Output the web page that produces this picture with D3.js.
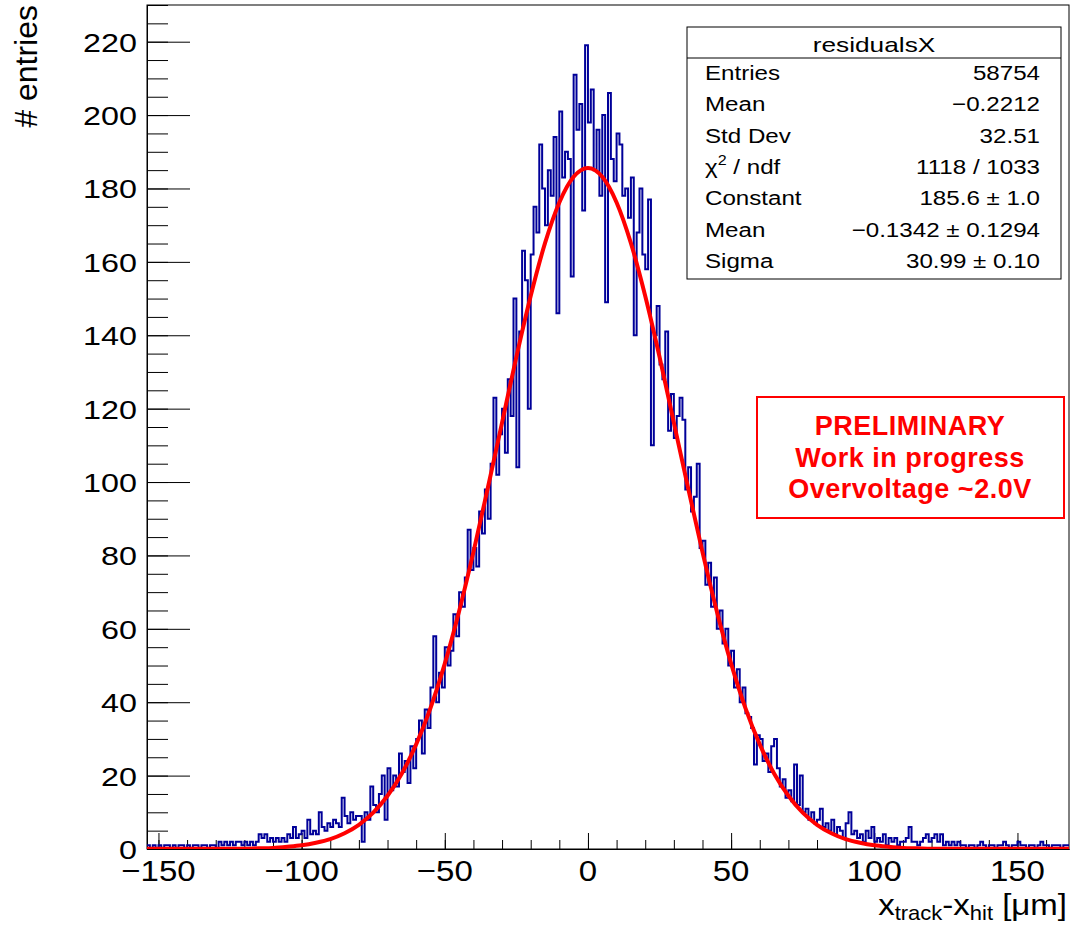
<!DOCTYPE html>
<html>
<head>
<meta charset="utf-8">
<script src="https://cdn.jsdelivr.net/npm/d3@7"></script>
<style>
  body { margin: 0; background: #fff; }
  svg { display: block; font-family: "Liberation Sans", Arial, Helvetica, sans-serif; }
</style>
</head>
<body>
<svg id="chart"></svg>
<script>
// histogram: 1 um bins, first bin starts at xMin
const xMin = -154
const xMax = 168
const binWidth = 1
const counts = [
  1,0,1,0,1,0,1,1,0,1,0,1,1,0,1,0,1,1,0,1,1,0,1,1,0,
  2,1,2,1,2,1,2,2,1,2,1,2,1,2,4,3,4,2,3,2,3,2,3,2,4,3,6,3,4,
  5,3,8,4,5,4,10,6,5,7,6,8,7,6,14,9,7,10,8,9,
  9,2,10,8,17,12,10,15,20,8,22,16,20,17,26,21,24,18,28,22,
  30,35,26,38,33,44,58,40,48,44,55,50,54,64,58,70,66,74,87,76,
  82,77,92,86,98,90,105,123,102,113,120,108,128,118,150,104,141,163,155,120,
  162,175,168,192,180,170,185,178,194,146,201,183,190,188,156,211,196,203,174,219,
  198,207,185,196,178,200,149,206,188,182,195,192,178,180,172,183,140,168,180,162,
  158,177,110,140,148,132,128,141,114,124,112,118,123,117,98,104,92,96,105,82,
  84,72,78,66,74,60,65,56,60,50,54,44,49,40,44,37,36,33,23,31,
  30,24,26,21,28,30,22,17,19,14,16,13,23,12,20,10,11,8,10,7,
  8,11,6,7,5,8,4,6,5,3,7,10,4,5,3,4,2,5,3,6,
  2,3,2,4,1,3,2,3,1,2,2,3,6,2,2,1,2,3,4,2,3,4,2,4,1,2,1,2,1,2,
  1,1,0,1,1,0,1,2,1,0,1,1,0,1,1,2,1,0,1,1,2,1,1,0,1,1,0,1,2,1,1,0,1,1,1,0,1,1
]

// gaussian fit curve
const fitX = [-154,-150,-145,-140,-135,-130,-125,-120,-115,-110,-105,-100,-95,-90,-85,-80,-75,-70,-65,-60,
  -55,-50,-45,-40,-35,-30,-25,-20,-15,-10,-5,0,5,10,15,20,25,30,35,40,45,50,55,60,65,70,75,80,85,90,95,
  100,105,110,115,120,125,130,135,140,145,150,155,160,165,168]
const fitY = [0.05,0.1,0.1,0.1,0.1,0.1,0.1,0.1,0.2,0.3,0.6,1.0,1.7,2.7,4.3,6.6,9.9,14.5,20.6,28.5,
  38.4,50.5,64.8,80.9,98.3,116.2,134.1,150.7,165.1,176.2,183.2,185.6,183.2,176.2,165.1,150.7,134.1,116.2,98.3,80.9,64.8,
  50.5,38.4,28.5,20.6,14.5,9.9,6.6,4.3,2.7,1.7,1.0,0.6,0.3,0.2,0.1,0.1,0.1,0.1,0.1,0.1,0.1,0.1,0.1,0.1,0.05]

const xMajor = [-150,-100,-50,0,50,100,150]
const yMajor = [0,20,40,60,80,100,120,140,160,180,200,220]

const statsTitle = 'residualsX'
const statsNames = ['Entries','Mean','Std Dev','\u03c7 / ndf','Constant','Mean','Sigma']
const statsValues = ['58754','\u22120.2212','32.51','1118 / 1033','185.6 \u00b1 1.0','\u22120.1342 \u00b1 0.1294','30.99 \u00b1 0.10']
const noteLines = ['PRELIMINARY','Work in progress','Overvoltage ~2.0V']

class ResidualPlot {
    constructor() {
        this.width = 1071
        this.height = 925
        this.left = 147
        this.right = 1069
        this.top = 5
        this.bottom = 849

        this.svg = d3.select('#chart').attr('width', this.width).attr('height', this.height)
        this.x = d3.scaleLinear().domain([xMin, xMax]).range([this.left, this.right])
        this.y = d3.scaleLinear().domain([0, 230]).range([this.bottom, this.top])

        this.drawAxes()
        this.drawData()
        this.drawStats()
        this.drawNote()
    }

    // text stretched horizontally like the original canvas
    label(g, x, y, str, size, sx, anchor) {
        return g.append('text')
            .attr('transform', `translate(${x},${y}) scale(${sx},1)`)
            .attr('text-anchor', anchor)
            .attr('font-size', size)
            .attr('fill', '#000')
            .text(str)
    }

    drawAxes() {
        let svg = this.svg
        let that = this

        svg.append('rect')
            .attr('x', this.left).attr('y', this.top)
            .attr('width', this.right - this.left).attr('height', this.bottom - this.top)
            .attr('fill', 'none').attr('stroke', '#000').attr('stroke-width', 1)

        let xMinor = d3.range(-150, 170, 10)
        let yMinor = d3.range(0, 231, 5)

        let gx = svg.append('g').attr('transform', `translate(0,${this.bottom})`)
        gx.call(d3.axisBottom(this.x).tickValues(xMinor).tickSize(-9).tickSizeOuter(0).tickFormat(''))
        gx.append('g').call(d3.axisBottom(this.x).tickValues(xMajor).tickSize(-16).tickSizeOuter(0).tickFormat(''))
        gx.selectAll('path.domain').attr('stroke', '#000')

        let gy = svg.append('g').attr('transform', `translate(${this.left},0)`)
        gy.call(d3.axisLeft(this.y).tickValues(yMinor).tickSize(-21).tickSizeOuter(0).tickFormat(''))
        gy.append('g').call(d3.axisLeft(this.y).tickValues(yMajor).tickSize(-43).tickSizeOuter(0).tickFormat(''))

        svg.selectAll('.tick line').attr('stroke', '#000')

        let labels = svg.append('g')
        xMajor.forEach(v => {
            let s = v < 0 ? '\u2212' + Math.abs(v) : String(v)
            that.label(labels, that.x(v), 881, s, 30, 1.1, 'middle')
        })
        yMajor.forEach(v => {
            that.label(labels, 137, that.y(v) + 10, String(v), 26.5, 1.22, 'end')
        })

        // axis titles
        svg.append('text')
            .attr('transform', 'translate(37,5) rotate(-90)')
            .attr('text-anchor', 'end')
            .attr('font-size', 32)
            .text('# entries')

        let xt = svg.append('text')
            .attr('transform', 'translate(1067,915) scale(1.1,1)')
            .attr('text-anchor', 'end')
            .attr('font-size', 30)
        xt.append('tspan').text('x')
        xt.append('tspan').attr('font-size', 20).attr('dy', 5).text('track')
        xt.append('tspan').attr('dy', -5).text('-x')
        xt.append('tspan').attr('font-size', 20).attr('dy', 5).text('hit')
        xt.append('tspan').attr('dy', -5).text(' [\u03bcm]')
    }

    drawData() {
        let svg = this.svg
        svg.append('clipPath').attr('id', 'frame')
            .append('rect')
            .attr('x', this.left).attr('y', this.top)
            .attr('width', this.right - this.left).attr('height', this.bottom - this.top)

        let steps = counts.map((c, i) => [xMin + i * binWidth, c])
        steps.push([xMin + counts.length * binWidth, counts[counts.length - 1]])

        svg.append('path')
            .datum(steps)
            .attr('clip-path', 'url(#frame)')
            .attr('fill', 'none')
            .attr('stroke', '#000099')
            .attr('stroke-width', 2)
            .attr('d', d3.line()
                .x(d => this.x(d[0]))
                .y(d => this.y(d[1]))
                .curve(d3.curveStepAfter))

        let fit = fitX.map((v, i) => [v, fitY[i]])
        svg.append('path')
            .datum(fit)
            .attr('clip-path', 'url(#frame)')
            .attr('fill', 'none')
            .attr('stroke', '#ff0000')
            .attr('stroke-width', 4)
            .attr('d', d3.line()
                .x(d => this.x(d[0]))
                .y(d => this.y(d[1]))
                .curve(d3.curveMonotoneX))
    }

    drawStats() {
        let g = this.svg.append('g')
        let bx = 687, by = 27, bw = 374, bh = 252
        g.append('rect').attr('x', bx).attr('y', by).attr('width', bw).attr('height', bh)
            .attr('fill', '#fff').attr('stroke', '#000').attr('stroke-width', 1)
        g.append('line').attr('x1', bx).attr('x2', bx + bw).attr('y1', 58).attr('y2', 58).attr('stroke', '#000')

        this.label(g, bx + bw / 2, 52, statsTitle, 21, 1.25, 'middle')

        statsNames.forEach((name, i) => {
            let yy = 80 + i * 31.3
            let t = this.label(g, 705, yy, name, 21, 1.15, 'start')
            if (i === 3) {
                // chi^2 with a raised 2
                t.text('\u03c7')
                t.append('tspan').attr('font-size', 14).attr('dy', -9).text('2')
                t.append('tspan').attr('dy', 9).text(' / ndf')
            }
            this.label(g, 1040, yy, statsValues[i], 21, 1.15, 'end')
        })
    }

    drawNote() {
        let g = this.svg.append('g')
        g.append('rect').attr('x', 757).attr('y', 397).attr('width', 307).attr('height', 121)
            .attr('fill', '#fff').attr('stroke', '#ff0000').attr('stroke-width', 2)
        noteLines.forEach((t, i) => {
            g.append('text')
                .attr('x', 910).attr('y', 435 + i * 31.5)
                .attr('text-anchor', 'middle')
                .attr('font-size', 27)
                .attr('font-weight', 'bold')
                .attr('letter-spacing', 0.5)
                .attr('fill', '#ff0000')
                .text(t)
        })
    }
}

new ResidualPlot()
</script>
</body>
</html>
